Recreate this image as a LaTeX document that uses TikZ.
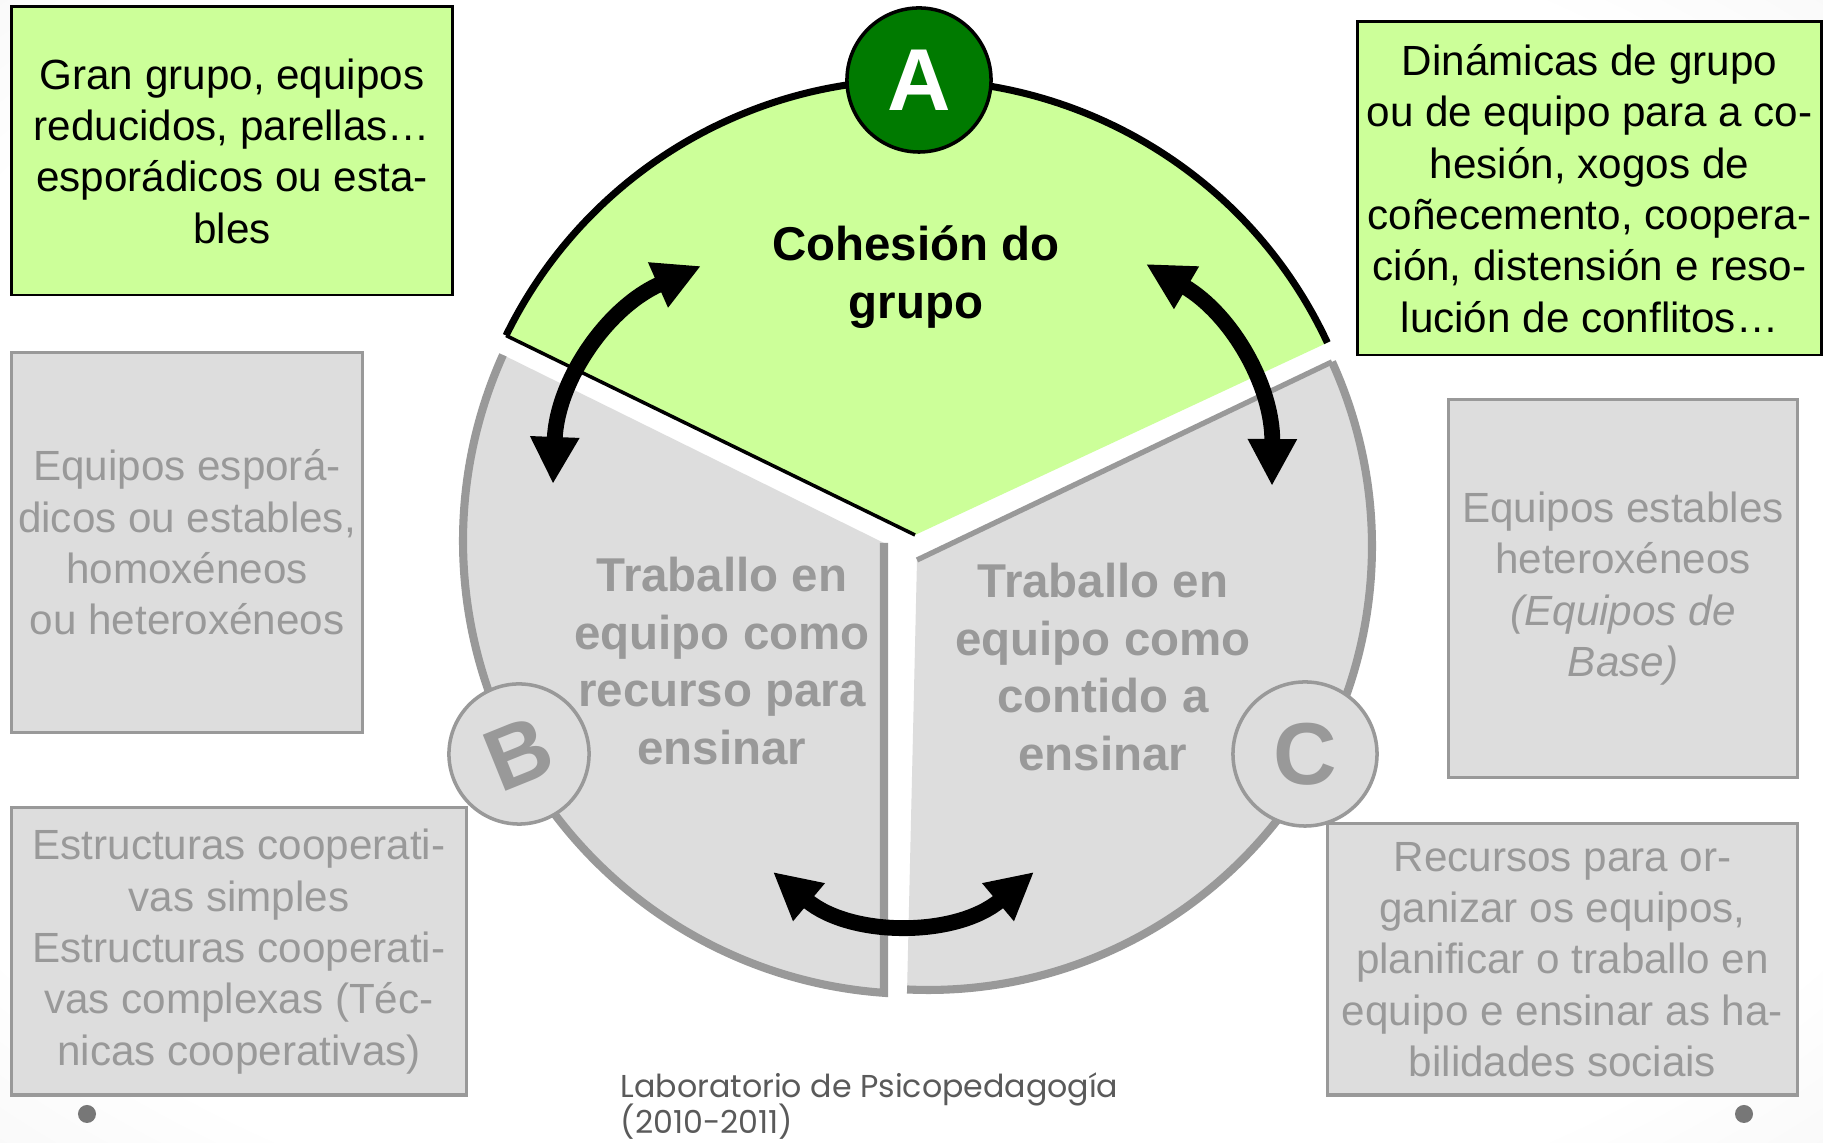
\documentclass[tikz,border=0pt]{standalone}
\usepackage{fontspec}
\setmainfont{Liberation Sans}
\newfontfamily\footfont{Poppins}
\usepackage{tikz}
\usetikzlibrary{arrows.meta,positioning,calc,shapes}
\definecolor{leafgreen}{HTML}{CCFF99}
\definecolor{darkleaf}{RGB}{0,122,0}
\definecolor{ashfill}{HTML}{DDDDDD}
\definecolor{ashline}{HTML}{999999}
\definecolor{foottext}{HTML}{5A5A5A}
\definecolor{dotgrey}{HTML}{777777}
\newcommand\footsize{\footfont\fontsize{9}{10.3}\selectfont\lineskiplimit=-8pt\relax}
\pgfdeclareradialshading{slideglow}{\pgfpoint{0bp}{0bp}}{color(0bp)=(white); color(30bp)=(white); color(71bp)=(black!17)}
\tikzset{
  bidir/.style={{Triangle[length=4.7mm,width=4.6mm]}-{Triangle[length=4.7mm,width=4.6mm]},line width=4.5pt},
}

\begin{document}
\begin{tikzpicture}[x=0.01cm,y=0.01cm,
      greenbox/.style={draw=black,line width=0.8pt,fill=leafgreen,inner sep=0pt,align=center,
        font=\fontsize{12}{14.6}\selectfont},
      greybox/.style={draw=ashline,line width=0.9pt,fill=ashfill,inner sep=0pt,align=center,
        text=ashline,font=\fontsize{12}{14.6}\selectfont},
      sectortext/.style={align=center,font=\bfseries\fontsize{13.5}{16.4}\selectfont},
      disc/.style={circle,inner sep=0pt,line width=1pt,font=\bfseries\fontsize{25}{25}\selectfont},
      dot/.style={circle,fill=dotgrey,inner sep=0pt,minimum size=0.18cm},]
      \useasboundingbox (0,0) rectangle (1823,1143);
      \shade[shading=slideglow] (0,0) rectangle (1823,1143);

      % sectors
      \coordinate (hubA) at (915,608);
      \coordinate (hubB) at (916,602);
      \coordinate (hubC) at (928,597);
      \coordinate (cornB) at (884,600);
      \coordinate (cornC) at (917,583);

      \fill[ashfill] (cornB) -- ($(hubB)+(155.75:453)$) arc[start angle=155.75,end angle=265.95,radius=453] -- cycle;
      \draw[ashline,line width=2.3pt] ($(hubB)+(155.75:453)$) arc[start angle=155.75,end angle=265.95,radius=453] -- (cornB);
      \fill[ashfill] ($(hubC)+(-92.7:444)$) arc[start angle=-92.7,end angle=24.5,radius=444] -- (cornC) -- cycle;
      \draw[ashline,line width=2.3pt] ($(hubC)+(-92.7:444)$) arc[start angle=-92.7,end angle=24.5,radius=444];
      \draw[ashline,line width=1.5pt] ($(hubC)+(24.5:444)$) -- (cornC);

      \fill[leafgreen] (hubA) -- ($(hubA)+(25:455)$) arc[start angle=25,end angle=154,radius=455] -- cycle;
      \draw[line width=2pt] ($(hubA)+(25:455)$) arc[start angle=25,end angle=154,radius=455];
      \draw[line width=1pt] ($(hubA)+(154:455)$) -- (hubA);

      \node[disc,draw=black,fill=darkleaf,text=white,minimum size=1.44cm] (discA) at (919,1063) {A};
      \node[disc,draw=ashline,fill=ashfill,text=ashline,minimum size=1.40cm,rotate=22] (discB) at (519,389) {B};
      \node[disc,draw=ashline,fill=ashfill,text=ashline,minimum size=1.44cm] (discC) at (1305,389) {C};

      % arrows
      \coordinate (ab1) at (553,659);
      \coordinate (ab2) at (701,877);
      \coordinate (ac1) at (1146,879);
      \coordinate (ac2) at (1272,657);
      \coordinate (bc1) at (773,271);
      \coordinate (bc2) at (1034,271);
      \draw[bidir] (ab1) to[bend left=32] (ab2);
      \draw[bidir] (ac1) to[bend left=30] (ac2);
      \draw[bidir] (bc1) to[bend right=40] (bc2);

      \node[sectortext] (cohesion) at (916,866) {Cohesión do\\grupo};
      \node[sectortext,text=ashline] (recurso) at (722,482) {Traballo en\\equipo como\\recurso para\\ensinar};
      \node[sectortext,text=ashline] (contido) at (1103,476) {Traballo en\\equipo como\\contido a\\ensinar};

      % boxes
      \node[greenbox,minimum width=4.40cm,minimum height=2.88cm] (agrup) at (232,992)
        {Gran grupo, equipos\\reducidos, parellas…\\esporádicos ou esta-\\bles};
      \node[greenbox,minimum width=4.63cm,minimum height=3.33cm] (dinam) at (1589.5,954.5)
        {Dinámicas de grupo\\ou de equipo para a co-\\hesión, xogos de\\coñecemento, coopera-\\ción, distensión e reso-\\lución de conflitos…};
      \node[greybox,minimum width=3.50cm,minimum height=3.79cm] (espor) at (187,600.5)
        {Equipos esporá-\\dicos ou estables,\\homoxéneos\\ou heteroxéneos};
      \node[greybox,minimum width=4.54cm,minimum height=2.87cm] (estru) at (239,191.5)
        {Estructuras cooperati-\\vas simples\\Estructuras cooperati-\\vas complexas (Téc-\\nicas cooperativas)};
      \node[greybox,minimum width=3.48cm,minimum height=3.77cm] (estab) at (1623,554.5)
        {Equipos estables\\heteroxéneos\\\textit{(Equipos de}\\\textit{Base)}};
      \node[greybox,minimum width=4.69cm,minimum height=2.71cm] (recur) at (1562.5,183.5)
        {Recursos para or-\\ganizar os equipos,\\planificar o traballo en\\equipo e ensinar as ha-\\bilidades sociais};

      \node[anchor=west,align=left,text=foottext,inner sep=0pt,font=\footsize] (labo) at (620,37)
        {Laboratorio de Psicopedagogía\\(2010-2011)};
      \node[dot] (dotL) at (87,29) {};
      \node[dot] (dotR) at (1744,29) {};
\end{tikzpicture}
\end{document}
